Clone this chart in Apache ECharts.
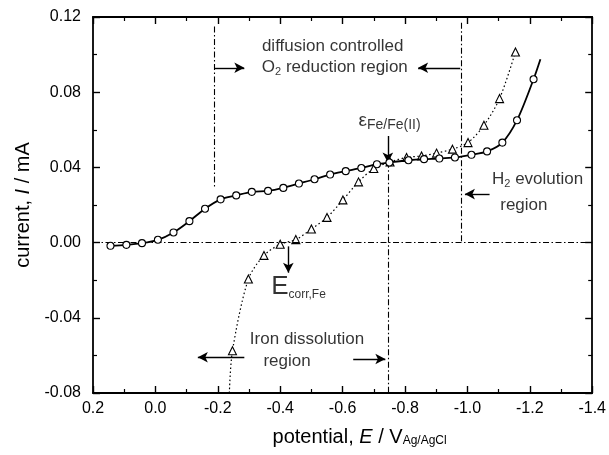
<!DOCTYPE html>
<html>
<head>
<meta charset="utf-8">
<script src="https://cdn.jsdelivr.net/npm/echarts@6/dist/echarts.min.js"></script>
<style>html,body{margin:0;padding:0;background:#fff}#c{width:609px;height:455px}</style>
</head>
<body>
<div id="c"></div>
<script>
// ---- data ----
var circleX = [0.144, 0.093, 0.043, -0.008, -0.058, -0.109, -0.159, -0.209, -0.259, -0.309, -0.361, -0.410, -0.460, -0.510, -0.560, -0.610, -0.660, -0.710, -0.750, -0.811, -0.861, -0.910, -0.960, -1.013, -1.063, -1.112, -1.159, -1.212];
var circleY = [-0.0017, -0.0012, -0.0003, 0.0015, 0.0054, 0.0114, 0.0180, 0.0230, 0.0251, 0.0270, 0.0275, 0.0291, 0.0314, 0.0337, 0.0362, 0.0380, 0.0397, 0.0417, 0.0426, 0.0438, 0.0444, 0.0447, 0.0453, 0.0467, 0.0485, 0.0532, 0.0651, 0.0869];
var circleLineEnd = [-1.234, 0.0975];

var triX = [-0.247, -0.298, -0.348, -0.400, -0.450, -0.500, -0.550, -0.601, -0.651, -0.700, -0.752, -0.805, -0.853, -0.901, -0.952, -1.002, -1.053, -1.103, -1.154];
var triY = [-0.0575, -0.0194, -0.0068, -0.0009, 0.0016, 0.0072, 0.0134, 0.0227, 0.0323, 0.0394, 0.0429, 0.0453, 0.0461, 0.0476, 0.0497, 0.0532, 0.0624, 0.0766, 0.1014];
var triLineStart = [-0.237, -0.08];

var xTicks = [0.2, 0.0, -0.2, -0.4, -0.6, -0.8, -1.0, -1.2, -1.4];
var yTicks = [-0.08, -0.04, 0.00, 0.04, 0.08, 0.12];

// reference (dash-dot) lines: [start, end]
var refLines = [
  [[0.2, 0], [-1.4, 0]],
  [[-0.189, 0.115], [-0.189, 0.029]],
  [[-0.979, 0.117], [-0.979, 0]],
  [[-0.745, 0.043], [-0.745, -0.08]]
];
// arrows: [start, end(head)]
var arrows = [
  [[-0.19, 0.093], [-0.285, 0.093]],
  [[-0.977, 0.093], [-0.842, 0.093]],
  [[-1.071, 0.0258], [-0.992, 0.0258]],
  [[-0.745, 0.0567], [-0.745, 0.0426]],
  [[-0.426, -0.002], [-0.426, -0.016]],
  [[-0.285, -0.061], [-0.136, -0.061]],
  [[-0.634, -0.0619], [-0.737, -0.0619]]
];

var FONT = "'Liberation Sans', Arial, sans-serif";
var chart = echarts.init(document.getElementById('c'), null, {renderer: 'canvas'});

function zip(xs, ys) { return xs.map(function (x, i) { return [x, ys[i]]; }); }

var circleData = zip(circleX, circleY);
circleData.push({value: circleLineEnd, symbol: 'none'});
var triData = [{value: triLineStart, symbol: 'none'}].concat(zip(triX, triY));

var rich = {
  n: {fontSize: 17, fontFamily: FONT, color: '#000', lineHeight: 21},
  s: {fontSize: 11, fontFamily: FONT, color: '#000', lineHeight: 10, verticalAlign: 'bottom'},
  big: {fontSize: 26, fontFamily: FONT, color: '#000', lineHeight: 28},
  bs: {fontSize: 12, fontFamily: FONT, color: '#000', lineHeight: 12, verticalAlign: 'bottom'},
  eps: {fontSize: 19, fontFamily: FONT, color: '#000', lineHeight: 22},
  es: {fontSize: 14, fontFamily: FONT, color: '#000', lineHeight: 14, verticalAlign: 'bottom'}
};

var annotations = [
  {pos: [-0.568, 0.1044], text: '{n|diffusion controlled}', align: 'center'},
  {pos: [-0.575, 0.0933], text: '{n|O}{s|2}{n| reduction region}', align: 'center'},
  {pos: [-0.651, 0.0646], text: '{eps|ε}{es|Fe/Fe(II)}', align: 'left'},
  {pos: [-1.225, 0.0337], text: '{n|H}{s|2}{n| evolution}', align: 'center'},
  {pos: [-1.181, 0.0199], text: '{n|region}', align: 'center'},
  {pos: [-0.371, -0.0236], text: '{big|E}{bs|corr,Fe}', align: 'left'},
  {pos: [-0.486, -0.0513], text: '{n|Iron dissolution}', align: 'center'},
  {pos: [-0.422, -0.063], text: '{n|region}', align: 'center'}
];

function fmt(d) { return function (v) { if (Math.abs(v) < 1e-9) v = 0; return v.toFixed(d); }; }

function axisCommon() {
  return {
    axisLine: {show: true, onZero: false, lineStyle: {color: '#000', width: 1.8}},
    axisTick: {show: true, inside: true, length: 7, lineStyle: {color: '#000', width: 1.4}},
    minorTick: {show: true, splitNumber: 2, length: 4, lineStyle: {color: '#000', width: 1.2}},
    splitLine: {show: false},
    minorSplitLine: {show: false}
  };
}

function mkX(pos, labels) {
  return Object.assign({
    type: 'value', position: pos, min: xTicks[xTicks.length - 1], max: xTicks[0], interval: 0.2, inverse: true,
    axisLabel: {show: labels, color: '#000', fontSize: 16, fontFamily: FONT, margin: 8, formatter: fmt(1)}
  }, axisCommon());
}
function mkY(pos, labels) {
  return Object.assign({
    type: 'value', position: pos, min: yTicks[0], max: yTicks[yTicks.length - 1], interval: 0.04,
    axisLabel: {show: labels, color: '#000', fontSize: 16, fontFamily: FONT, margin: 12, formatter: fmt(2)}
  }, axisCommon());
}

var xb = mkX('bottom', true);
xb.name = 'potential, {i|E} / V{s|Ag/AgCl}';
xb.nameLocation = 'middle';
xb.nameGap = 34;
xb.nameTextStyle = {fontSize: 20, fontFamily: FONT, color: '#000', padding: [0, 0, 0, 34],
  rich: {i: {fontSize: 20, fontStyle: 'italic', fontFamily: FONT, color: '#000'},
         s: {fontSize: 12, fontFamily: FONT, color: '#000', verticalAlign: 'bottom', lineHeight: 10}}};
var xt = mkX('top', false);

var yl = mkY('left', true);
yl.name = 'current, {i|I} / mA';
yl.nameLocation = 'middle';
yl.nameGap = 60;
yl.nameRotate = 90;
yl.nameTextStyle = {fontSize: 20, fontFamily: FONT, color: '#000',
  rich: {i: {fontSize: 20, fontStyle: 'italic', fontFamily: FONT, color: '#000'}}};
var yr = mkY('right', false);

var series = [
  {
    name: 'circles', type: 'line', xAxisIndex: 0, yAxisIndex: 0, data: circleData,
    smooth: 0.3, symbol: 'circle', symbolSize: 7,
    lineStyle: {color: '#000', width: 1.8},
    itemStyle: {color: '#fff', borderColor: '#000', borderWidth: 1.1},
    z: 5, animation: false
  },
  {
    name: 'triangles', type: 'line', xAxisIndex: 0, yAxisIndex: 0, data: triData,
    smooth: 0.3, symbol: 'triangle', symbolSize: 8,
    lineStyle: {color: '#000', width: 1.2, type: [1.5, 2.5]},
    itemStyle: {color: '#fff', borderColor: '#000', borderWidth: 1.1},
    z: 4, animation: false
  },
  {
    name: 'guides', type: 'line', data: [], xAxisIndex: 0, yAxisIndex: 0, animation: false,
    markLine: {
      silent: true, animation: false, symbol: ['none', 'none'], label: {show: false},
      lineStyle: {color: '#000', width: 1.1, type: [6, 2.5, 1.5, 2.5]},
      data: refLines.map(function (l) { return [{coord: l[0]}, {coord: l[1]}]; })
    }
  },
  {
    name: 'arrows', type: 'line', data: [], xAxisIndex: 0, yAxisIndex: 0, animation: false,
    markLine: {
      silent: true, animation: false, symbol: ['none', 'arrow'], symbolSize: [8, 10], label: {show: false},
      lineStyle: {color: '#000', width: 1.4, type: 'solid'},
      data: arrows.map(function (l) { return [{coord: l[0]}, {coord: l[1]}]; })
    }
  },
  {
    name: 'annotations', type: 'scatter', xAxisIndex: 0, yAxisIndex: 0, symbolSize: 0, silent: true,
    animation: false, z: 10,
    data: annotations.map(function (a) {
      return {value: a.pos, label: {show: true, position: 'inside', formatter: a.text, rich: rich,
        align: a.align, verticalAlign: 'middle'}};
    })
  }
];

chart.setOption({
  animation: false,
  backgroundColor: '#fff',
  grid: {left: 93, right: 14, top: 17, bottom: 62},
  xAxis: [xb, xt],
  yAxis: [yl, yr],
  series: series
});
</script>
</body>
</html>
